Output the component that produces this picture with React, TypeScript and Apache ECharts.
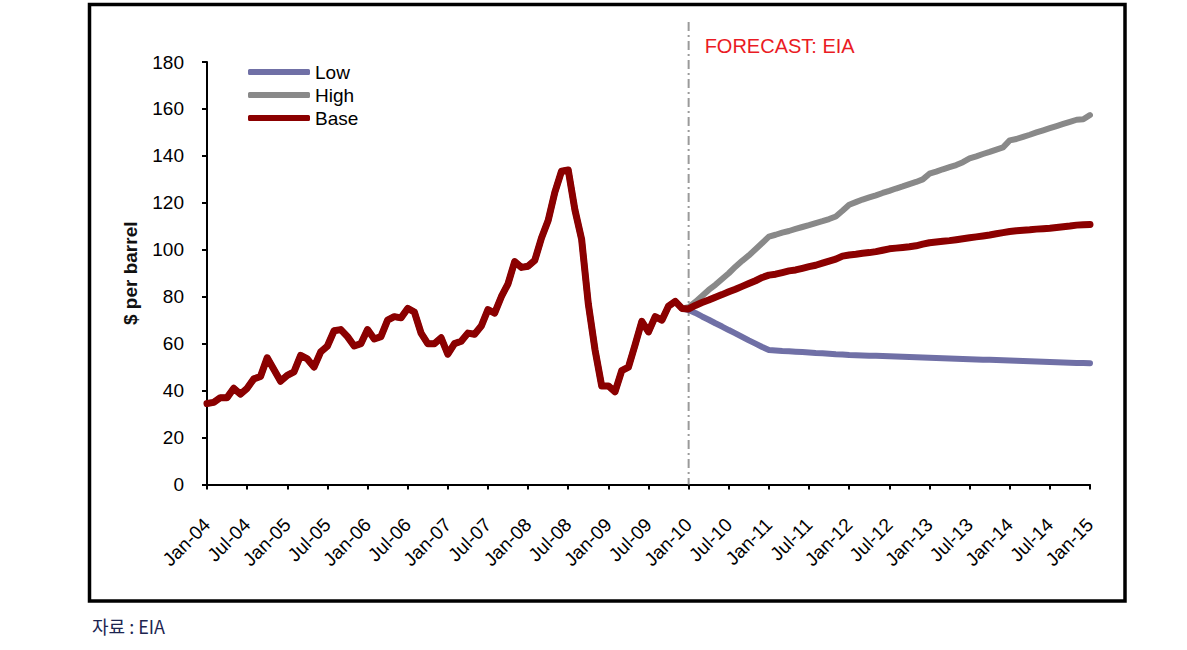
import React, { useEffect, useRef } from "react";
import * as echarts from "echarts";

const MONTHS = ["Jan", "Feb", "Mar", "Apr", "May", "Jun", "Jul", "Aug", "Sep", "Oct", "Nov", "Dec"];
const categories: string[] = [];
for (let y = 4; y <= 15; y++) {
  for (let m = 0; m < 12; m++) {
    if (y === 15 && m > 0) break;
    categories.push(`${MONTHS[m]}-${String(y).padStart(2, "0")}`);
  }
}

// Monthly history, Jan-04 .. Dec-09 ($ per barrel)
const history = [
  34.5, 35, 37, 37, 41, 38.5, 41, 45, 46, 54, 49, 44,
  46.5, 48, 55, 53.5, 50, 56.5, 59, 65.5, 66, 63, 59, 60,
  66, 62, 63, 70, 71.5, 71, 75, 73.5, 64.5, 60, 60, 62.5,
  55.5, 60, 61, 64.5, 64, 67.5, 74.5, 73, 80, 85.5, 95, 92.5,
  93, 95.5, 105, 112.5, 124.5, 133.5, 134, 117, 104.5, 77, 57.5, 42,
  42, 39.5, 48.5, 50, 59.5, 69.5, 65, 71.5, 70, 76, 78, 75,
];

// Forecasts, Jan-10 .. Jan-15
const lowForecast = [
  74.3, 73.1, 71.6, 70.2, 68.7, 67.3, 65.8, 64.4, 62.9, 61.4, 60.0, 58.6,
  57.3, 57.1, 56.9, 56.8, 56.6, 56.4, 56.2, 56.0, 55.9, 55.7, 55.5, 55.4,
  55.2, 55.1, 55.0, 54.9, 54.8, 54.7, 54.6, 54.5, 54.4, 54.3, 54.2, 54.1,
  54.0, 53.9, 53.8, 53.7, 53.6, 53.5, 53.4, 53.3, 53.2, 53.1, 53.0, 52.9,
  52.8, 52.7, 52.6, 52.5, 52.4, 52.3, 52.2, 52.1, 52.0, 51.9, 51.8, 51.8,
  51.7,
];
const highForecast = [
  75.5, 77.8, 80.3, 82.9, 85.1, 87.6, 90.0, 92.8, 95.3, 97.6, 100.2, 102.9,
  105.6, 106.4, 107.3, 108.0, 108.9, 109.7, 110.5, 111.4, 112.2, 113.1, 114.2, 116.6,
  119.2, 120.3, 121.4, 122.3, 123.2, 124.2, 125.1, 126.1, 127.0, 128.0, 128.9, 130.0,
  132.4, 133.3, 134.3, 135.2, 136.1, 137.3, 138.9, 139.8, 140.8, 141.7, 142.7, 143.6,
  146.6, 147.2, 148.1, 149.0, 150.0, 150.9, 151.8, 152.7, 153.6, 154.5, 155.4, 155.6,
  157.4,
];
const baseForecast = [
  74.8, 76.3, 77.5, 78.6, 79.8, 80.9, 82.1, 83.2, 84.4, 85.6, 86.8, 88.2,
  89.2, 89.6, 90.3, 91.0, 91.4, 92.1, 92.8, 93.4, 94.3, 95.2, 96.0, 97.3,
  97.8, 98.1, 98.5, 98.8, 99.2, 99.8, 100.4, 100.7, 101.0, 101.3, 101.7, 102.4,
  103.0, 103.3, 103.6, 103.9, 104.3, 104.7, 105.1, 105.5, 105.9, 106.3, 106.8, 107.3,
  107.8, 108.1, 108.3, 108.5, 108.8, 109.0, 109.2, 109.5, 109.8, 110.1, 110.5, 110.7,
  110.8,
];

const seriesNames = ["Low", "High", "Base"];
const seriesColors = ["#7070a6", "#898989", "#8b0000"];
const seriesWidths = [6, 6, 7];
const seriesForecasts = [lowForecast, highForecast, baseForecast];

const yMin = 0;
const yMax = 180;
const yStep = 20;
const yAxisTitle = "$ per barrel";
const forecastStart = "Jan-10";
const forecastLabel = "FORECAST: EIA";
const sourceNote = "자료 : EIA";

const FONT = '"Liberation Sans", Arial, sans-serif';

export default function App() {
  const ref = useRef<HTMLDivElement>(null);

  useEffect(() => {
    if (!ref.current) return;
    const chart = echarts.init(ref.current, null, { renderer: "svg" });
    chart.setOption({
      animation: false,
      backgroundColor: "#ffffff",
      grid: { left: 207, right: 97, top: 62, bottom: 165.5, containLabel: false },
      legend: {
        orient: "vertical",
        left: 248,
        top: 62,
        padding: 0,
        itemGap: 3,
        itemWidth: 62,
        itemHeight: 6,
        icon: "roundRect",
        data: seriesNames,
        textStyle: { fontFamily: FONT, fontSize: 19, color: "#000", lineHeight: 20 },
      },
      xAxis: {
        type: "category",
        data: categories,
        boundaryGap: false,
        axisLine: { lineStyle: { color: "#000", width: 2 } },
        axisTick: { show: true, interval: 5, length: 5, lineStyle: { color: "#000", width: 2 } },
        axisLabel: {
          interval: 5,
          rotate: 45,
          margin: 37,
          fontFamily: FONT,
          fontSize: 19,
          color: "#000",
        },
        splitLine: { show: false },
      },
      yAxis: {
        type: "value",
        min: yMin,
        max: yMax,
        interval: yStep,
        name: yAxisTitle,
        nameLocation: "middle",
        nameRotate: 90,
        nameGap: 67,
        nameTextStyle: { fontFamily: FONT, fontSize: 19, fontWeight: "bold", color: "#111" },
        axisLine: { show: true, lineStyle: { color: "#000", width: 2 } },
        axisTick: { show: true, length: 5, lineStyle: { color: "#000", width: 2 } },
        axisLabel: { margin: 23, fontFamily: FONT, fontSize: 19, color: "#000", padding: [6, 0, 0, 0] },
        splitLine: { show: false },
      },
      series: seriesNames.map((name, i) => ({
        name,
        type: "line",
        data: [...history, ...seriesForecasts[i]],
        symbol: "none",
        smooth: false,
        z: 2 + i,
        itemStyle: { color: seriesColors[i] },
        lineStyle: { color: seriesColors[i], width: seriesWidths[i], cap: "round", join: "round" },
      })),
    });

    const fx = chart.convertToPixel({ xAxisIndex: 0 }, forecastStart) as number;
    const y0 = chart.convertToPixel({ yAxisIndex: 0 }, yMin) as number;

    chart.setOption({
      graphic: [
        {
          id: "frame",
          type: "rect",
          shape: { x: 89.5, y: 4.5, width: 1035.5, height: 596.5 },
          style: { fill: "none", stroke: "#000", lineWidth: 3.5 },
          z: 10,
        },
        {
          id: "forecastLine",
          type: "line",
          shape: { x1: fx, y1: 22, x2: fx, y2: y0 },
          style: { stroke: "#9a9a9a", lineWidth: 2, lineDash: [9, 4, 2, 4] },
          z: 1,
        },
        {
          id: "forecastText",
          type: "text",
          x: fx + 16,
          y: 46,
          style: {
            text: forecastLabel,
            fill: "#ea1b24",
            fontSize: 20,
            fontFamily: FONT,
            verticalAlign: "middle",
            align: "left",
          },
        },
        {
          id: "source",
          type: "text",
          x: 92,
          y: 626,
          style: {
            text: sourceNote,
            fill: "#1c2550",
            fontSize: 18,
            fontFamily: '"Noto Sans CJK KR", "Liberation Sans", sans-serif',
            verticalAlign: "middle",
            align: "left",
          },
        },
      ],
    });

    return () => chart.dispose();
  }, []);

  return (
    <div
      ref={ref}
      style={{ position: "absolute", left: 0, top: 0, width: 1187, height: 650, background: "#fff" }}
    />
  );
}
